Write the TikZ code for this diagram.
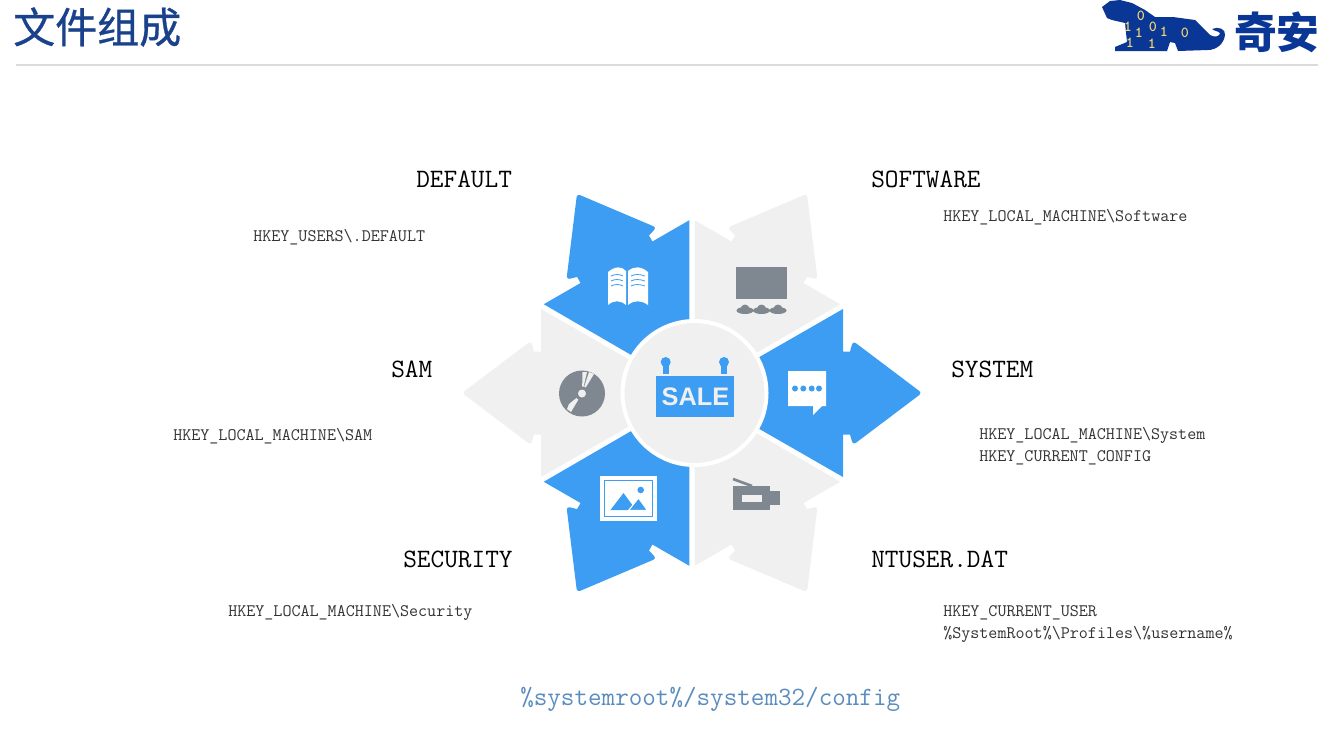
\documentclass[tikz,border=0pt]{standalone}
\usepackage{fontspec}
\newfontfamily\cjkfont{Noto Sans CJK SC}
\newfontfamily\headfont[FakeBold=0.7]{Noto Sans CJK SC}
\newfontfamily\salefont{Liberation Sans}
\usepackage{xcolor}
\definecolor{vblue}{RGB}{61,157,243}
\definecolor{vpale}{RGB}{240,240,240}
\definecolor{vslate}{RGB}{127,136,144}
\definecolor{vnavy}{RGB}{10,55,150}
\definecolor{vink}{RGB}{25,65,140}
\definecolor{vsky}{RGB}{90,140,190}
\definecolor{vgold}{RGB}{240,215,110}
\begin{document}
\begin{tikzpicture}[x=0.75pt,y=-0.75pt,
    title/.style={font=\ttfamily\fontsize{19.9}{20}\selectfont,text=black,inner sep=0pt,anchor=west},
    keypath/.style={font=\ttfamily\fontsize{13.17}{16.5}\selectfont,text=black!80,inner sep=0pt,anchor=west,align=left},
    digit/.style={font=\ttfamily\bfseries\fontsize{11.5}{11.5}\selectfont,text=vgold,inner sep=0pt},
    hubdisc/.style={circle,fill=vpale,draw=white,line width=3pt,minimum size=108pt,inner sep=0pt},
    petal/.pic={
      \fill[pic actions] (50,-26) -- (151,-84) -- (151,-41.5) -- (158,-41.5)
        [rounded corners=2.5pt] -- (161,-52) -- (230,0) -- (161,52)
        [sharp corners] -- (158,41.5) -- (151,41.5) -- (151,84) -- (50,26) -- cycle;
    }]
  \useasboundingbox (0,0) rectangle (1318,733);
  % header
  \node[font=\headfont\fontsize{31.5}{31.5}\selectfont,text=vink,inner sep=0pt,anchor=west] (heading) at (13,27) {文件组成};
  \coordinate (ruleL) at (16,65);
  \coordinate (ruleR) at (1318,65);
  \draw[black!14,line width=2pt] (ruleL) -- (ruleR);
  % logo
  \fill[vnavy] (1102,7) -- (1110,1) -- (1120,0) -- (1132,3) -- (1145,10) -- (1155,17) -- (1173,17) -- (1195,20)
    -- (1202,27) -- (1210,35) .. controls (1215,38) and (1220,36) .. (1220,33) .. controls (1218,31) and (1214,31) .. (1212,29)
    .. controls (1218,26) and (1226,29) .. (1225,35) .. controls (1224,44) and (1216,50) .. (1208,50)
    -- (1178,51) -- (1175,43) -- (1170,42) -- (1167,51) -- (1115,51) -- (1115,47) -- (1127,42) -- (1125,23) -- (1112,20) -- (1107,18) -- cycle;
  \node[digit] (bitA) at (1128,27) {1};
  \node[digit] (bitB) at (1141,16) {0};
  \node[digit] (bitC) at (1139,33) {1};
  \node[digit] (bitD) at (1153,27) {0};
  \node[digit] (bitE) at (1164,32) {1};
  \node[digit] (bitF) at (1185,33) {0};
  \node[digit] (bitG) at (1130,43) {1};
  \node[digit] (bitH) at (1152,44) {1};
  \node[font=\cjkfont\bfseries\fontsize{32}{32}\selectfont,text=vnavy,inner sep=0pt,anchor=west] (brand) at (1234,32) {奇安};
  % arrows
  \foreach \ang/\col in {0/vblue,60/vpale,120/vblue,180/vpale,240/vblue,300/vpale}
    \path (692,393) pic[fill=\col,rotate=\ang] {petal};
  \node[hubdisc] (hub) at (694.5,393) {};
  % sale sign
  \fill[vblue] (656,376) rectangle (734,417);
  \node[font=\salefont\bfseries\fontsize{19}{19}\selectfont,text=vpale,inner sep=0pt] (sale) at (695.5,397) {SALE};
  \foreach \x in {665.7,724}{
    \fill[vblue] (\x,362) circle[radius=5];
    \fill[vblue] (\x-3,362) rectangle (\x+3,374);
  }
  % book
  \fill[white] (608,272) .. controls (615,266) and (622,266) .. (626,271) -- (626,305) .. controls (620,300) and (614,300) .. (608,305) -- cycle;
  \fill[white] (648,272) .. controls (641,266) and (634,266) .. (628,271) -- (628,305) .. controls (634,300) and (641,300) .. (648,305) -- cycle;
  \foreach \y in {276,281,286}{
    \draw[vblue,line width=0.6pt] (611,\y) .. controls (615,\y-2) and (619,\y-2) .. (623,\y);
    \draw[vblue,line width=0.6pt] (631,\y) .. controls (635,\y-2) and (639,\y-2) .. (645,\y);
  }
  % screen
  \fill[vslate] (736,267) rectangle (787,299);
  \foreach \x in {745,761.5,778}{
    \fill[vslate] (\x-4.5,309) arc[start angle=180,end angle=360,radius=4.5];
    \fill[vslate] (\x,310.5) ellipse[x radius=8.5,y radius=3.5];
  }
  % chat
  \fill[white] (788,371) -- (826,371) -- (826,406) -- (822,406) -- (813,415) -- (813,406) -- (788,406) -- cycle;
  \foreach \x in {795,803.3,811.7,819}
    \fill[vblue] (\x,388.5) circle[radius=3];
  % video
  \fill[vslate] (733,486) rectangle (770,510);
  \fill[vslate] (770,491) rectangle (779.5,505);
  \draw[vslate,line width=2pt] (733,479) -- (752,486);
  \fill[vpale] (742,495) rectangle (762,502);
  % disc
  \fill[vslate] (582,393.5) circle[radius=23];
  \fill[vpale] (582,393.5) -- (582.5,372) -- (587,372) -- cycle;
  \fill[vpale] (582,393.5) -- (589,372) -- (594,374) -- cycle;
  \fill[vpale] (582,393.5) -- (571,412) -- (567,409) -- (569,404) -- cycle;
  \fill[vslate] (582,393.5) circle[radius=7];
  \fill[vpale] (582,393.5) circle[radius=4];
  % picture
  \fill[white] (600,476) rectangle (657,521);
  \draw[vblue,line width=1pt] (604.5,480.5) rectangle (652.5,516.5);
  \fill[vblue] (610.5,510) -- (623.5,493) -- (636,510) -- cycle;
  \fill[vblue,draw=white,line width=0.8pt] (628.5,510.5) -- (638.5,498) -- (647.5,510.5) -- cycle;
  \fill[vblue] (640.7,490) circle[radius=3.3];
  % labels
  \node[title] (software) at (871,179.4) {SOFTWARE};
  \node[title] (default) at (416,179.4) {DEFAULT};
  \node[title] (system) at (951,369.4) {SYSTEM};
  \node[title] (sam) at (391,369.4) {SAM};
  \node[title] (ntuser) at (871,559.4) {NTUSER.DAT};
  \node[title] (security) at (403,559.4) {SECURITY};
  \node[keypath] (softwarekey) at (943,217) {HKEY\_LOCAL\_MACHINE\textbackslash Software};
  \node[keypath] (defaultkey) at (253,237) {HKEY\_USERS\textbackslash .DEFAULT};
  \node[keypath] (systemkey) at (979,446.5) {HKEY\_LOCAL\_MACHINE\textbackslash System\\HKEY\_CURRENT\_CONFIG};
  \node[keypath] (samkey) at (173,436) {HKEY\_LOCAL\_MACHINE\textbackslash SAM};
  \node[keypath] (ntuserkey) at (943,624) {HKEY\_CURRENT\_USER\\\%SystemRoot\%\textbackslash Profiles\textbackslash \%username\%};
  \node[keypath] (securitykey) at (228,612) {HKEY\_LOCAL\_MACHINE\textbackslash Security};
  \node[font=\ttfamily\fontsize{19.76}{20}\selectfont,text=vsky,inner sep=0pt,anchor=west] (configdir) at (520,699) {\%systemroot\%/system32/config};
\end{tikzpicture}
\end{document}
